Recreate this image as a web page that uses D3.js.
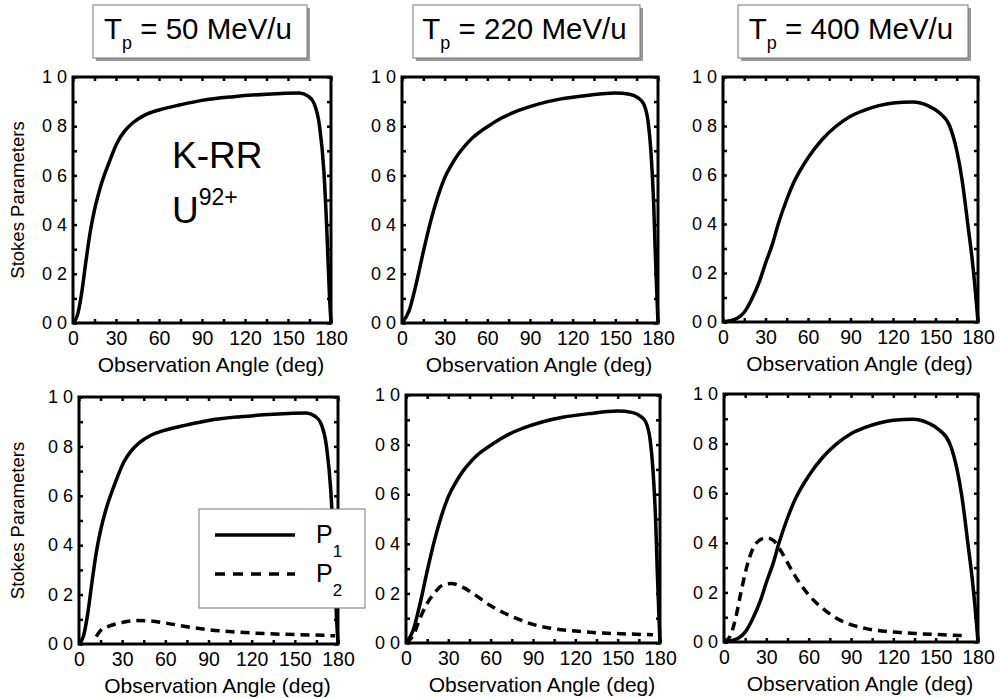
<html>
<head>
<meta charset="utf-8">
<title>Stokes parameters K-RR U92+</title>
<style type="text/css">
    body { margin: 0; background: #fff; }
    text { font-family: "Liberation Sans", Arial, sans-serif; fill: #000; }
</style>
</head>
<body>
<script src="https://d3js.org/d3.v7.min.js"></script>
<script>

    // beam energies (column titles)
    var energies = ["50", "220", "400"];

    // tick labels
    var xTickLabels = [0, 30, 60, 90, 120, 150, 180];
    var yTickLabels = ["0 0", "0 2", "0 4", "0 6", "0 8", "1 0"];

    // P1 (solid) for each energy: [angle, value]
    var p1_50 = [[0,0],[3,0.03],[6,0.12],[9,0.25],[12,0.37],[15,0.46],[19,0.55],[25,0.65],[31,0.735],
        [36,0.78],[42,0.815],[50,0.845],[60,0.866],[75,0.887],[90,0.905],[112,0.92],[135,0.93],
        [158,0.935],[164,0.922],[168,0.895],[172,0.80],[175,0.62],[177,0.39],[179,0.1],[180,0]];
    var p1_220 = [[0,0],[5,0.05],[10,0.16],[15,0.29],[20,0.41],[25,0.51],[30,0.59],[35,0.645],[40,0.69],
        [45,0.725],[50,0.755],[55,0.778],[62,0.805],[70,0.833],[83,0.866],[97,0.892],[111,0.91],
        [130,0.925],[150,0.935],[160,0.93],[166,0.915],[170,0.89],[173,0.82],[175,0.7],[177,0.48],
        [178,0.3],[179.3,0.1],[180,0]];
    var p1_400 = [[0,0],[5,0.005],[10,0.015],[15,0.04],[20,0.09],[26,0.17],[30,0.24],[35,0.32],[39,0.4],
        [45,0.5],[50,0.57],[60,0.67],[70,0.745],[80,0.8],[90,0.84],[100,0.865],[110,0.883],[120,0.894],
        [134,0.898],[145,0.882],[153,0.853],[160,0.8],[165,0.7],[168.5,0.59],[173,0.39],[176,0.25],
        [179,0.07],[180,0]];

    // P2 (dashed), lower row only
    var p2_50 = [[12,0.03],[15,0.055],[20,0.07],[30,0.087],[40,0.095],[50,0.093],[60,0.085],[75,0.07],
        [90,0.058],[110,0.048],[130,0.042],[150,0.038],[170,0.035],[178,0.033]];
    var p2_220 = [[0,0],[5,0.03],[10,0.1],[15,0.16],[20,0.2],[25,0.23],[32,0.24],[40,0.225],[50,0.19],
        [60,0.15],[70,0.12],[80,0.095],[90,0.075],[100,0.062],[120,0.048],[140,0.04],[160,0.036],[175,0.033]];
    var p2_400 = [[0,0],[4,0.02],[8,0.09],[12,0.2],[16,0.3],[20,0.37],[25,0.41],[30,0.42],[35,0.41],
        [40,0.37],[45,0.32],[50,0.27],[60,0.19],[70,0.135],[80,0.095],[90,0.07],[100,0.055],[120,0.04],
        [140,0.033],[160,0.028],[172,0.025]];

    var p1Series = [p1_50, p1_220, p1_400];
    var p2Series = [p2_50, p2_220, p2_400];

    // panel frames in page pixels
    var topRow = [
        {left: 73, right: 331, top: 77, bottom: 323},
        {left: 402, right: 658, top: 77, bottom: 323},
        {left: 723, right: 978, top: 77, bottom: 322}
    ];
    var bottomRow = [
        {left: 79, right: 338, top: 397, bottom: 644},
        {left: 406, right: 660, top: 395, bottom: 643},
        {left: 724, right: 978, top: 394, bottom: 642}
    ];
    var titleBoxes = [
        {left: 93, right: 307},
        {left: 413, right: 640},
        {left: 738, right: 968}
    ];

    var svg = d3.select("body").append("svg")
        .attr("width", 1000)
        .attr("height", 698);

    function drawPanel(p, col, withP2) {
        var x = d3.scaleLinear().domain([0, 180]).range([p.left, p.right]);
        var y = d3.scaleLinear().domain([0, 1]).range([p.bottom, p.top]);
        var g = svg.append("g");

        var xt = d3.range(0, 13).map(function(i) { return i * 15; });
        var yt = d3.range(0, 11).map(function(i) { return i / 10; });

        // bottom axis with labels
        var ax = g.append("g")
            .attr("transform", "translate(0," + p.bottom + ")")
            .call(d3.axisBottom(x).tickValues(xt).tickSizeInner(-4).tickSizeOuter(0).tickPadding(8)
                .tickFormat(function(d) { return xTickLabels.indexOf(d) >= 0 ? d : ""; }));
        g.append("g")
            .attr("transform", "translate(0," + p.top + ")")
            .call(d3.axisTop(x).tickValues(xt).tickSizeInner(-4).tickSizeOuter(0).tickFormat(""));
        var ay = g.append("g")
            .attr("transform", "translate(" + p.left + ",0)")
            .call(d3.axisLeft(y).tickValues(yt).tickSizeInner(-4).tickSizeOuter(0).tickPadding(6)
                .tickFormat(function(d, i) { return i % 2 === 0 ? yTickLabels[i / 2] : ""; }));
        g.append("g")
            .attr("transform", "translate(" + p.right + ",0)")
            .call(d3.axisRight(y).tickValues(yt).tickSizeInner(-4).tickSizeOuter(0).tickFormat(""));

        g.selectAll(".domain").remove();
        g.selectAll(".tick line").attr("stroke", "#000").attr("stroke-width", 2.5);
        ax.selectAll("text").attr("font-size", 19.5).attr("font-family", "Liberation Sans, Arial, sans-serif");
        ay.selectAll("text").attr("font-size", 18).attr("font-family", "Liberation Sans, Arial, sans-serif");

        // frame
        g.append("rect")
            .attr("x", p.left).attr("y", p.top)
            .attr("width", p.right - p.left).attr("height", p.bottom - p.top)
            .attr("fill", "none").attr("stroke", "#000").attr("stroke-width", 3);

        var line = d3.line()
            .x(function(d) { return x(d[0]); })
            .y(function(d) { return y(d[1]); })
            .curve(d3.curveMonotoneX);

        if (withP2) {
            g.append("path")
                .datum(p2Series[col])
                .attr("d", line)
                .attr("fill", "none").attr("stroke", "#000")
                .attr("stroke-width", 3.5).attr("stroke-dasharray", "9,6");
        }
        g.append("path")
            .datum(p1Series[col])
            .attr("d", line)
            .attr("fill", "none").attr("stroke", "#000")
            .attr("stroke-width", 3.5).attr("stroke-linejoin", "round");

        g.append("text")
            .attr("x", (p.left + p.right) / 2 + 9)
            .attr("y", p.bottom + 49)
            .attr("text-anchor", "middle")
            .attr("font-size", 21)
            .text("Observation Angle (deg)");
    }

    topRow.forEach(function(p, i) { drawPanel(p, i, false); });
    bottomRow.forEach(function(p, i) { drawPanel(p, i, true); });

    // y axis titles
    [topRow[0], bottomRow[0]].forEach(function(p) {
        svg.append("text")
            .attr("transform", "translate(24," + ((p.top + p.bottom) / 2) + ") rotate(-90)")
            .attr("text-anchor", "middle")
            .attr("font-size", 18.5)
            .text("Stokes Parameters");
    });

    // title boxes with drop shadow
    titleBoxes.forEach(function(b, i) {
        svg.append("rect")
            .attr("x", b.left + 3).attr("y", 8)
            .attr("width", b.right - b.left).attr("height", 53)
            .attr("fill", "#9a9a9a");
        svg.append("rect")
            .attr("x", b.left).attr("y", 5)
            .attr("width", b.right - b.left).attr("height", 53)
            .attr("fill", "#fff").attr("stroke", "#777").attr("stroke-width", 1);
        var t = svg.append("text")
            .attr("x", (b.left + b.right) / 2 - 2)
            .attr("y", 39)
            .attr("text-anchor", "middle")
            .attr("font-size", 29.5);
        t.append("tspan").text("T");
        t.append("tspan").attr("font-size", 18).attr("dy", 10).text("p");
        t.append("tspan").attr("dy", -10).text(" = " + energies[i] + " MeV/u");
    });

    // annotation in first panel
    svg.append("text").attr("x", 172).attr("y", 168).attr("font-size", 37).text("K-RR");
    var u = svg.append("text").attr("x", 172).attr("y", 223).attr("font-size", 37);
    u.append("tspan").text("U");
    u.append("tspan").attr("font-size", 23).attr("dy", -18).text("92+");

    // legend
    var lg = svg.append("g");
    lg.append("rect")
        .attr("x", 199).attr("y", 509).attr("width", 166).attr("height", 99)
        .attr("fill", "#fff").attr("stroke", "#777").attr("stroke-width", 1);
    lg.append("line").attr("x1", 215).attr("x2", 295).attr("y1", 535).attr("y2", 535)
        .attr("stroke", "#000").attr("stroke-width", 3.5);
    lg.append("line").attr("x1", 215).attr("x2", 295).attr("y1", 574).attr("y2", 574)
        .attr("stroke", "#000").attr("stroke-width", 3.5).attr("stroke-dasharray", "10,8");
    [["1", 543], ["2", 582]].forEach(function(e) {
        var t = lg.append("text").attr("x", 316).attr("y", e[1]).attr("font-size", 25);
        t.append("tspan").text("P");
        t.append("tspan").attr("font-size", 17).attr("dy", 14).text(e[0]);
    });

</script>
</body>
</html>
